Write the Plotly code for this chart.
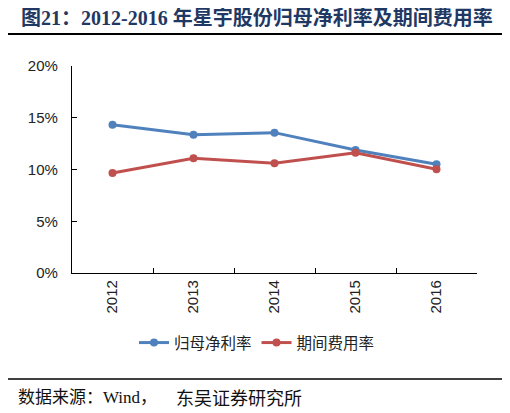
import plotly.graph_objects as go

years = ["2012", "2013", "2014", "2015", "2016"]
net_margin = [0.1433, 0.1336, 0.1356, 0.1188, 0.1050]
expense_ratio = [0.0966, 0.1108, 0.1060, 0.1162, 0.1002]
series_names = ["归母净利率", "期间费用率"]
title_text = "图21：2012-2016 年星宇股份归母净利率及期间费用率"
source_part1 = "数据来源：Wind，"
source_part2 = "东吴证券研究所"

OFF = 8  # default page body margin
W, H = 510 - OFF, 413 - OFF
# plot area in screen pixels: x 72..477, y 66..273
L = 72 - OFF
R = W - (477 - OFF)
T = 66 - OFF
B = H - (273 - OFF)
pw, ph = W - L - R, H - T - B

def px(x):
    return (x - OFF - L) / pw

def py(y):
    return (H - B - (y - OFF)) / ph

fig = go.Figure()
fig.add_trace(go.Scatter(
    x=years, y=net_margin, name=series_names[0], mode="lines+markers",
    line=dict(color="#4F81BD", width=3), marker=dict(color="#4F81BD", size=8),
))
fig.add_trace(go.Scatter(
    x=years, y=expense_ratio, name=series_names[1], mode="lines+markers",
    line=dict(color="#C0504D", width=3), marker=dict(color="#C0504D", size=8),
))

fig.update_layout(
    width=W, height=H,
    margin=dict(l=L, r=R, t=T, b=B, pad=0),
    paper_bgcolor="white", plot_bgcolor="white",
    showlegend=True,
    legend=dict(orientation="h", x=px(257), xanchor="center", y=py(343), yanchor="middle",
                font=dict(family="Noto Sans CJK SC", size=15.5, color="#222"),
                itemwidth=30, tracegroupgap=0, bgcolor="rgba(0,0,0,0)"),
    xaxis=dict(type="category", range=[-0.5, 4.5], showline=True, linecolor="#000", linewidth=1.3,
               ticks="inside", ticklen=5, tickcolor="#000", tickson="boundaries",
               tickangle=-90, showgrid=False, zeroline=False,
               tickfont=dict(family="Liberation Sans, Arial", size=15, color="#222")),
    yaxis=dict(range=[0, 0.2], dtick=0.05, tickformat=".0%", showline=True, linecolor="#000",
               linewidth=1.3, ticks="inside", ticklen=5, tickcolor="#000", showgrid=False,
               zeroline=False, ticklabelstandoff=10,
               tickfont=dict(family="Liberation Sans, Arial", size=15, color="#222")),
    font=dict(family="Liberation Sans, Noto Sans CJK SC"),
)

fig.add_annotation(text="<b>" + title_text + "</b>", xref="paper", yref="paper",
                   x=px(19), y=py(18), xanchor="left", yanchor="middle", showarrow=False,
                   font=dict(family="Liberation Serif, Noto Sans CJK SC", size=20, color="#1F3864"))
fig.add_annotation(text=source_part1, xref="paper", yref="paper",
                   x=px(16), y=py(397), xanchor="left", yanchor="middle", showarrow=False,
                   font=dict(family="Liberation Serif, Noto Sans CJK SC", size=17, color="#111"))
fig.add_annotation(text=source_part2, xref="paper", yref="paper",
                   x=px(174), y=py(397), xanchor="left", yanchor="middle", showarrow=False,
                   font=dict(family="Noto Sans CJK SC", size=18, color="#111"))
fig.add_shape(type="line", xref="paper", yref="paper", x0=px(5), x1=px(504), y0=py(34), y1=py(34),
              line=dict(color="#000", width=2))
fig.add_shape(type="line", xref="paper", yref="paper", x0=px(5), x1=px(504), y0=py(379), y1=py(379),
              line=dict(color="#000", width=1.5))

fig.write_html("out.html")
